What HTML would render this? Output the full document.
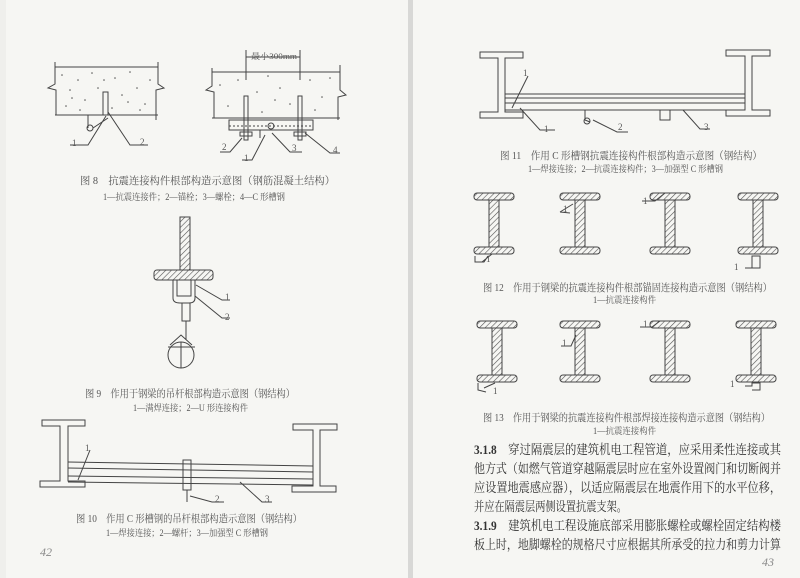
<!DOCTYPE html>
<html><head><meta charset="utf-8"><style>
html,body{margin:0;padding:0;background:#f6f6f3;}
svg{display:block;}
text{font-family:"Liberation Serif","Noto Serif CJK SC","Noto Sans CJK SC",serif;fill:#555;}
.cap{font-size:10.5px;}
.leg{font-size:9px;}
.lb{font-size:9px;fill:#333;}
.p{font-size:13px;fill:#333;font-family:"Liberation Serif","Noto Serif CJK SC",serif;}
</style></head><body>
<svg width="800" height="578" viewBox="0 0 800 578" xmlns="http://www.w3.org/2000/svg">
<defs>
<pattern id="h" width="4" height="4" patternUnits="userSpaceOnUse" patternTransform="rotate(45)"><line x1="0" y1="0" x2="0" y2="4" stroke="#555" stroke-width="1.2"/></pattern>
<g id="hi">
<rect x="-20" y="0" width="40" height="7" rx="3" fill="url(#h)" stroke="#444" stroke-width="1"/>
<rect x="-5" y="7" width="10" height="47" fill="url(#h)" stroke="#444" stroke-width="1"/>
<rect x="-20" y="54" width="40" height="7" rx="3" fill="url(#h)" stroke="#444" stroke-width="1"/>
</g>
</defs>
<rect x="0" y="0" width="800" height="578" fill="#f6f6f3"/>
<rect x="408" y="0" width="5" height="578" fill="#d8d8d6"/>
<rect x="0" y="0" width="6" height="578" fill="#efefec"/>
<g fill="#555">
<circle cx="62" cy="75" r=".8"/><circle cx="70" cy="90" r=".8"/><circle cx="78" cy="80" r=".8"/><circle cx="85" cy="100" r=".8"/><circle cx="92" cy="73" r=".8"/><circle cx="98" cy="88" r=".8"/><circle cx="66" cy="106" r=".8"/><circle cx="115" cy="78" r=".8"/><circle cx="122" cy="95" r=".8"/><circle cx="130" cy="72" r=".8"/><circle cx="137" cy="88" r=".8"/><circle cx="145" cy="104" r=".8"/><circle cx="150" cy="80" r=".8"/><circle cx="112" cy="108" r=".8"/><circle cx="80" cy="110" r=".8"/><circle cx="140" cy="110" r=".8"/><circle cx="104" cy="80" r=".8"/><circle cx="72" cy="98" r=".8"/><circle cx="128" cy="102" r=".8"/>
<circle cx="220" cy="85" r=".8"/><circle cx="238" cy="80" r=".8"/><circle cx="257" cy="92" r=".8"/><circle cx="268" cy="76" r=".8"/><circle cx="280" cy="88" r=".8"/><circle cx="290" cy="104" r=".8"/><circle cx="310" cy="80" r=".8"/><circle cx="322" cy="97" r=".8"/><circle cx="330" cy="78" r=".8"/><circle cx="262" cy="112" r=".8"/><circle cx="228" cy="106" r=".8"/><circle cx="315" cy="110" r=".8"/><circle cx="275" cy="100" r=".8"/>
</g>
<g stroke="#444" fill="none" stroke-width="1">
<path d="M55 67 H158 M55 115 H158 M55 62 V84 L48 88 L56 90 V115 M158 62 V84 L164 88 L156 90 V120"/>
<rect x="103" y="92" width="5" height="23"/>
<path d="M88 115 V128 M93 128 L108 118 M106 116 L88 145 H70 M108 112 L130 145 H148"/>
<circle cx="90" cy="128" r="3"/>
<path d="M212 72 H340 M212 118 H340 M212 68 V86 L206 90 L214 92 V118 M340 65 V90 L346 95 L338 97 V120"/>
<path d="M246 50 V80 M300 50 V80 M246 57 H300"/>
<rect x="229" y="120" width="84" height="10"/>
<path d="M229 126 H313" stroke-dasharray="2 2"/>
<rect x="244" y="96" width="4" height="44"/><rect x="298" y="96" width="4" height="44"/>
<rect x="240" y="132" width="12" height="4"/><rect x="294" y="132" width="12" height="4"/>
<circle cx="271" cy="126" r="3"/>
<path d="M260 130 V138 M242 138 L230 152 H220 M265 135 L252 160 H242 M272 133 L290 152 H302 M305 133 L330 153 H340"/>
<rect x="180" y="217" width="10" height="53" fill="url(#h)"/>
<rect x="154" y="270" width="59" height="10" rx="3" fill="url(#h)"/>
<path d="M173 280 V298 Q173 303 180 303 H189 Q195 303 195 298 V280 M177 280 V296 H191 V280"/>
<rect x="182" y="303" width="8" height="18"/>
<path d="M186 321 V340 M196 285 L222 300 H230 M195 296 L222 318 H230"/>
<circle cx="181" cy="355" r="13"/>
<path d="M168 347 H195 M181 342 V368 M170 345 L181 335 L192 345"/>
<path d="M42 420 H85 V426 H68 V481 H85 V487 H40 V481 H60 V426 H42 Z"/>
<path d="M293 424 H337 V430 H320 V486 H336 V492 H292 V486 H313 V430 H293 Z"/>
<path d="M68 462 L313 466 M68 468 L313 472 M68 476 L313 479 M68 482 L313 485"/>
<rect x="183" y="460" width="8" height="30"/>
<path d="M187 490 V502 M90 450 L78 480 M190 496 L212 502 H224 M240 482 L262 502 H272"/>
<path d="M480 52 H523 V58 H505 V112 H523 V118 H480 V112 H498 V58 H480 Z"/>
<path d="M726 50 H770 V56 H752 V110 H770 V116 H726 V110 H745 V56 H726 Z"/>
<path d="M505 94 H745 M505 98 H745 M505 103 H745 M505 110 H745"/>
<path d="M528 76 L512 108 M520 108 L540 130 H555 M585 110 V120 L590 122 M593 120 L617 132 H628 M660 110 V120 H670 V110 M683 110 L700 129 H710"/>
<circle cx="587" cy="121" r="3"/>
</g>
<use href="#hi" x="494" y="193"/><use href="#hi" x="580" y="193"/><use href="#hi" x="670" y="193"/><use href="#hi" x="758" y="193"/>
<use href="#hi" x="497" y="321"/><use href="#hi" x="580" y="321"/><use href="#hi" x="670" y="321"/><use href="#hi" x="756" y="321"/>
<g stroke="#444" fill="none" stroke-width="1">
<path d="M475 256 V262 H484 L488 256 M482 262 L492 254 M560 212 L573 204 M560 212 L570 213 M642 201 H655 L665 193 M745 268 H752 V256 H760 V268 H752"/>
<path d="M478 383 V390 L486 392 M484 388 L495 383 M561 346 H571 L576 335 M640 327 H652 L660 321 M745 386 H752 V383 H760 V390 H752"/>
</g>
<g class="lb">
<text x="72" y="146">1</text><text x="140" y="145">2</text>
<text x="222" y="150">2</text><text x="244" y="161">1</text><text x="292" y="151">3</text><text x="333" y="153">4</text>
<text x="251" y="59" style="font-size:8px" textLength="46" lengthAdjust="spacingAndGlyphs">最小300mm</text>
<text x="225" y="300">1</text><text x="225" y="320">2</text>
<text x="85" y="451">1</text><text x="215" y="502">2</text><text x="265" y="502">3</text>
<text x="523" y="76">1</text><text x="544" y="132">1</text><text x="618" y="130">2</text><text x="704" y="130">3</text>
<text x="486" y="262">1</text><text x="563" y="212">1</text><text x="643" y="204">1</text><text x="734" y="270">1</text>
<text x="493" y="394">1</text><text x="562" y="346">1</text><text x="643" y="327">1</text><text x="730" y="387">1</text>
</g>
<text class="cap" x="80" y="184" textLength="255" lengthAdjust="spacingAndGlyphs">图 8　抗震连接构件根部构造示意图（钢筋混凝土结构）</text>
<text class="leg" x="103" y="200" textLength="182" lengthAdjust="spacingAndGlyphs">1—抗震连接件；2—锚栓；3—螺栓；4—C 形槽钢</text>
<text class="cap" x="85" y="397" textLength="210" lengthAdjust="spacingAndGlyphs">图 9　作用于钢梁的吊杆根部构造示意图（钢结构）</text>
<text class="leg" x="133" y="411" textLength="115" lengthAdjust="spacingAndGlyphs">1—满焊连接；2—U 形连接构件</text>
<text class="cap" x="76" y="522" textLength="226" lengthAdjust="spacingAndGlyphs">图 10　作用 C 形槽钢的吊杆根部构造示意图（钢结构）</text>
<text class="leg" x="106" y="536" textLength="162" lengthAdjust="spacingAndGlyphs">1—焊接连接；2—螺杆；3—加强型 C 形槽钢</text>
<text class="cap" x="500" y="159" textLength="262" lengthAdjust="spacingAndGlyphs">图 11　作用 C 形槽钢抗震连接构件根部构造示意图（钢结构）</text>
<text class="leg" x="528" y="172" textLength="195" lengthAdjust="spacingAndGlyphs">1—焊接连接；2—抗震连接构件；3—加强型 C 形槽钢</text>
<text class="cap" x="483" y="291" textLength="289" lengthAdjust="spacingAndGlyphs">图 12　作用于钢梁的抗震连接构件根部锚固连接构造示意图（钢结构）</text>
<text class="leg" x="593" y="303" textLength="63" lengthAdjust="spacingAndGlyphs">1—抗震连接构件</text>
<text class="cap" x="483" y="421" textLength="287" lengthAdjust="spacingAndGlyphs">图 13　作用于钢梁的抗震连接构件根部焊接连接构造示意图（钢结构）</text>
<text class="leg" x="593" y="434" textLength="63" lengthAdjust="spacingAndGlyphs">1—抗震连接构件</text>
<text class="p" x="474" y="454" textLength="307" lengthAdjust="spacingAndGlyphs"><tspan font-weight="bold">3.1.8</tspan>　穿过隔震层的建筑机电工程管道，应采用柔性连接或其</text>
<text class="p" x="474" y="473" textLength="307" lengthAdjust="spacingAndGlyphs">他方式（如燃气管道穿越隔震层时应在室外设置阀门和切断阀并</text>
<text class="p" x="474" y="492" textLength="307" lengthAdjust="spacingAndGlyphs">应设置地震感应器），以适应隔震层在地震作用下的水平位移，</text>
<text class="p" x="474" y="511" textLength="153" lengthAdjust="spacingAndGlyphs">并应在隔震层两侧设置抗震支架。</text>
<text class="p" x="474" y="530" textLength="307" lengthAdjust="spacingAndGlyphs"><tspan font-weight="bold">3.1.9</tspan>　建筑机电工程设施底部采用膨胀螺栓或螺栓固定结构楼</text>
<text class="p" x="474" y="549" textLength="307" lengthAdjust="spacingAndGlyphs">板上时，地脚螺栓的规格尺寸应根据其所承受的拉力和剪力计算</text>
<text x="40" y="556" style="font-size:12px;font-style:italic;fill:#888">42</text>
<text x="762" y="566" style="font-size:12px;font-style:italic;fill:#888">43</text>
</svg>
</body></html>
